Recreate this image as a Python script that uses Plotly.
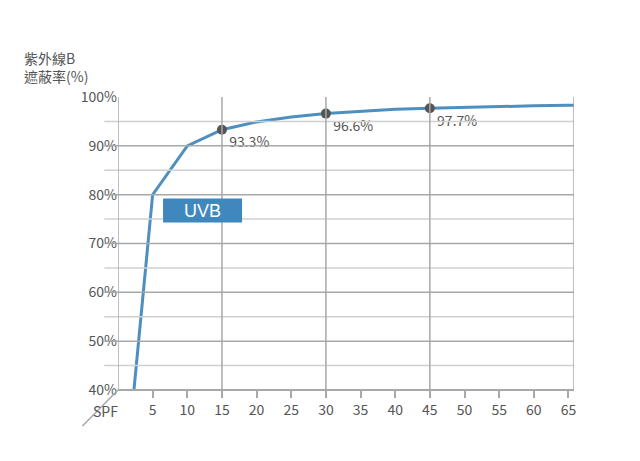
import plotly.graph_objects as go

spf = [2.3, 5, 10, 15, 20, 25, 30, 35, 40, 45, 50, 55, 60, 65, 66]
block = [40, 80, 90, 93.3, 94.9, 95.9, 96.6, 97.1, 97.5, 97.7, 97.9, 98.1, 98.2, 98.3, 98.3]
mark_x = [15, 30, 45]
mark_y = [93.3, 96.6, 97.7]
mark_labels = ["93.3%", "96.6%", "97.7%"]
x_ticks = list(range(5, 70, 5))
y_ticks = [40, 50, 60, 70, 80, 90, 100]
y_labels = [f"{v}%" for v in y_ticks]

grid = "#a8a8a8"
font = dict(family="Noto Sans CJK TC, Liberation Sans, sans-serif", color="#555555", size=14)

fig = go.Figure()
fig.add_trace(go.Scatter(x=spf, y=block, mode="lines", line=dict(color="#4d8fbf", width=3),
                         hoverinfo="skip", cliponaxis=True))
fig.add_trace(go.Scatter(x=mark_x, y=mark_y, mode="markers+text", text=mark_labels,
                         textposition="bottom right", textfont=font,
                         marker=dict(color="#555555", size=10)))

shapes = []
for v in range(45, 100, 5):
    shapes.append(dict(type="line", xref="paper", yref="y", x0=-0.03, x1=1, y0=v, y1=v,
                       line=dict(color=grid if v % 10 == 0 else "#d0d0d0", width=1.5)))
for v in [0, 15, 30, 45, 65.8]:
    shapes.append(dict(type="line", xref="x", yref="paper", x0=v, x1=v, y0=0, y1=1,
                       line=dict(color=grid, width=1.5)))
shapes.append(dict(type="line", xref="paper", yref="paper", x0=0, x1=1, y0=0, y1=0,
                   line=dict(color=grid, width=2)))
shapes.append(dict(type="line", xref="paper", yref="paper", x0=0, x1=-0.078, y0=0, y1=-0.123,
                   line=dict(color=grid, width=1.5)))
shapes.append(dict(type="rect", xref="x", yref="y", x0=6.5, x1=17.9, y0=74.3, y1=79.2,
                   fillcolor="#3f88bd", line=dict(width=0)))

fig.update_layout(
    width=640, height=461, margin=dict(l=110, r=74, t=89, b=79, autoexpand=False),
    paper_bgcolor="white", plot_bgcolor="white", showlegend=False, font=font,
    xaxis=dict(range=[0, 65.8], tickvals=x_ticks, showgrid=False, zeroline=False,
               ticks="outside", ticklen=7, tickcolor=grid, tickwidth=1.5, showline=False,
               automargin=False),
    yaxis=dict(range=[40, 100], tickmode="array", tickvals=y_ticks, ticktext=y_labels,
               showgrid=False, zeroline=False, ticks="", showline=False, automargin=False),
    shapes=shapes,
    annotations=[
        dict(text="紫外線B<br>遮蔽率(%)", xref="paper", yref="paper", x=-0.21, y=1.03,
             xanchor="left", yanchor="bottom", align="left", showarrow=False, font=font),
        dict(text="SPF", xref="paper", yref="paper", x=0.005, y=-0.03, xanchor="right",
             yanchor="top", showarrow=False, font=font),
        dict(text="UVB", xref="x", yref="y", x=12.2, y=76.75, showarrow=False,
             font=dict(family="Liberation Sans, sans-serif", color="white", size=18)),
    ],
)
fig.write_html("out.html")
